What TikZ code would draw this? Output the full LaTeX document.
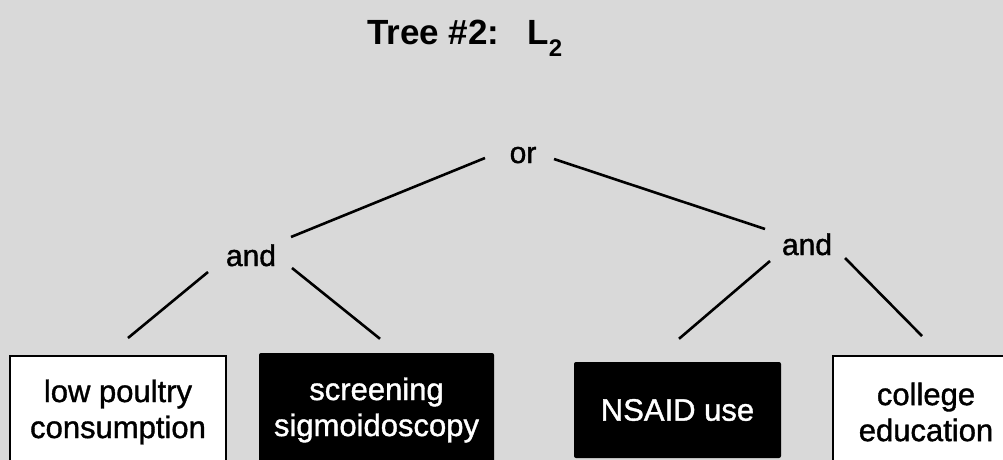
\documentclass[tikz,border=0pt]{standalone}
\usepackage{fontspec}
\setmainfont{Liberation Sans}
\newfontfamily\mediumsans{Liberation Sans}[FakeBold=1.2]
\usetikzlibrary{calc}
\definecolor{bggrey}{RGB}{217,217,217}
\tikzset{
  gate/.style={inner sep=0pt, font=\mediumsans\fontsize{30}{36}\selectfont, anchor=base},
  leafbox/.style={inner sep=0pt, align=center, font=\mediumsans\fontsize{31}{36}\selectfont},
  plainleaf/.style={leafbox, draw=black, line width=2pt, fill=white, text=black},
  darkleaf/.style={leafbox, fill=black, text=white, rounded corners=2pt},
  branch/.style={line width=2.6pt, black},
}
\begin{document}
\begin{tikzpicture}[x=1pt, y=-1pt]
  \useasboundingbox (0,0) rectangle (1003,460);
  \fill[bggrey] (0,0) rectangle (1003,460);
  \clip (0,0) rectangle (1003,460);

  % title
  \node[anchor=base west, inner sep=0pt, font=\fontsize{35}{40}\selectfont\bfseries] (title) at (367,45)
    {Tree \#2:\hspace{28pt}L\raisebox{-12pt}{\fontsize{24}{24}\selectfont 2}};

  % gates
  \node[gate] (or)   at (523,163) {or};
  \node[gate] (andL) at (251,266) {and};
  \node[gate] (andR) at (807,255) {and};

  % leaves
  \node[plainleaf, minimum width=216pt, minimum height=112pt] (poultry) at (118,412)
    {low poultry\\consumption};
  \node[darkleaf, minimum width=235pt, minimum height=114pt] (screen) at (376.5,410)
    {screening\\sigmoidoscopy};
  \node[darkleaf, minimum width=207pt, minimum height=96pt] (nsaid) at (677.5,410)
    {NSAID use};
  \node[plainleaf, minimum width=186pt, minimum height=112pt] (college) at (926,412)
    {college\\education};

  % branches
  \draw[branch] ($(or.base)+(-38,-5)$) -- ($(andL.base)+(40,-29)$);
  \draw[branch] ($(or.base)+(31,-4)$) -- ($(andR.base)+(-42,-26)$);
  \draw[branch] ($(andL.base)+(-43,6)$) -- ($(poultry.north)+(10,-17)$);
  \draw[branch] ($(andL.base)+(41,2)$) -- ($(screen.north)+(3.5,-14)$);
  \draw[branch] ($(andR.base)+(-37,6)$) -- ($(nsaid.north)+(1.5,-23)$);
  \draw[branch] ($(andR.base)+(38,3)$) -- ($(college.north)+(-4,-19)$);
\end{tikzpicture}
\end{document}
